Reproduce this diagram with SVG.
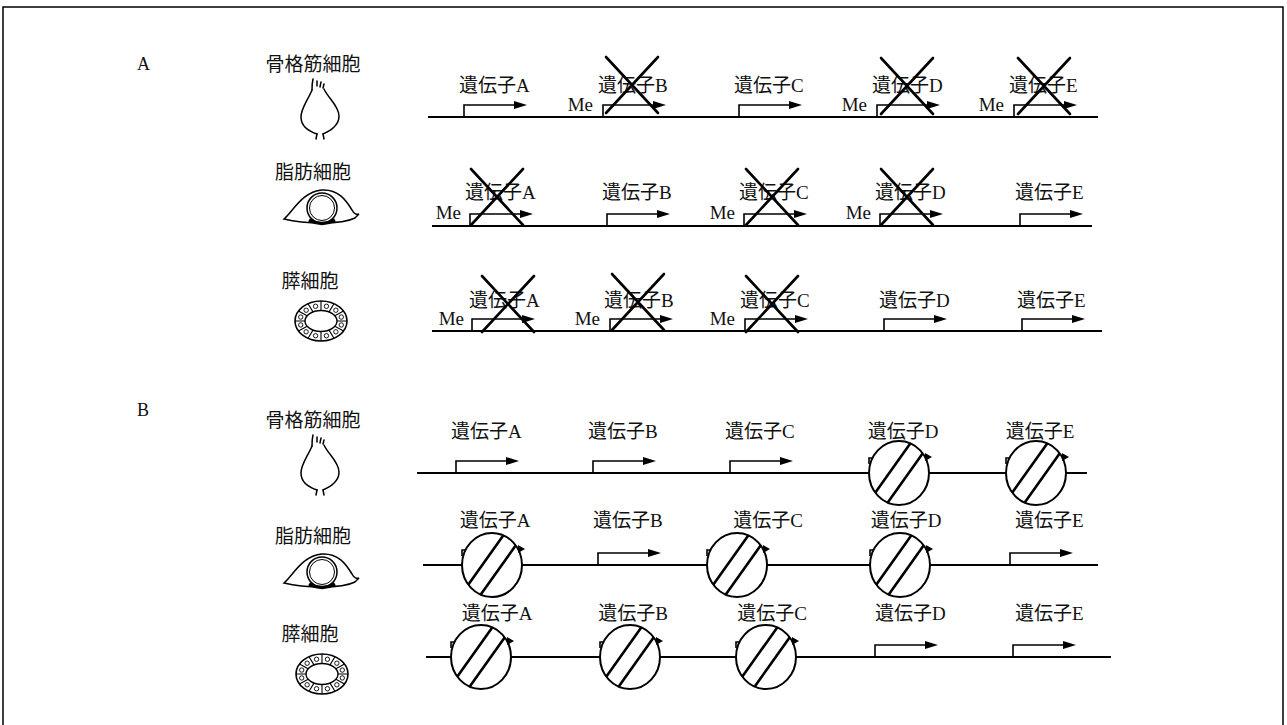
<svg xmlns="http://www.w3.org/2000/svg" width="1287" height="725" viewBox="0 0 1287 725">
  <style>
    .dna { stroke:#000; stroke-width:2; fill:none; }
    .pr { stroke:#000; stroke-width:1.6; fill:none; }
    .cellline { stroke:#000; stroke-width:1.5; fill:none; stroke-linecap:round; }
    .lbl { font-family:"Liberation Serif","Noto Sans CJK JP",serif; font-size:19px; fill:#111; }
    .cap { font-family:"Liberation Serif","Noto Sans CJK JP",serif; font-size:18px; fill:#111; }
    .xx { stroke:#000; stroke-width:2.6; stroke-linecap:round; fill:none; }
  </style>
  <defs>
    <!-- active promoter: bent arrow standing on the strand -->
    <g id="prom">
      <path class="pr" d="M0 0V-12H52"/>
      <path d="M50 -16L63 -12L50 -8Z" fill="#000"/>
    </g>
    <!-- cross over a methylated gene -->
    <path id="cross" class="xx" d="M-26 -28L26 28M26 -28L-26 28"/>
    <!-- gene packed into closed chromatin -->
    <clipPath id="ballClip"><ellipse cx="0" cy="0" rx="30" ry="32"/></clipPath>
    <g id="ball">
      <ellipse rx="30" ry="32" fill="#fff" stroke="#000" stroke-width="2"/>
      <g clip-path="url(#ballClip)">
        <path d="M-32.5 31.9L19.5 -41.1M-19.5 41.1L32.5 -31.9" stroke="#000" stroke-width="2.6"/>
      </g>
      <path class="pr" d="M-30 -9V-15H-27"/>
      <path d="M26 -20L33 -16L26 -12Z" fill="#000"/>
    </g>
    <!-- cell sketches -->
    <g id="muscle">
      <path class="cellline" d="M-8 8C-12 18 -19 26 -19 35C-19 45 -9 50 -3 52M4 7C8 16 19 24 19 34C19 44 10 49 3 52"/>
      <path class="cellline" d="M-8 8C-8 4 -8 1 -7 -3M-3 4L-3 -1M0 5L1 0M3 6L4 2M-3 52L-4 57M3 52L4 57"/>
    </g>
    <g id="fat">
      <path class="cellline" d="M-38 11C-28 2 -20 -16 0 -18C16 -19 24 -8 30 2C32 6 35 7 37 6L33 10C25 14 10 15 0 15C-15 15 -30 13 -38 11Z"/>
      <circle r="15" fill="#fff" stroke="#000" stroke-width="1.5"/>
      <circle r="12.5" fill="none" stroke="#000" stroke-width="1"/>
      <path d="M-13 12Q0 19 13 12" stroke="#000" stroke-width="3.5" fill="none"/>
    </g>
    <g id="pancreas">
      <ellipse rx="26" ry="20" fill="#fff" stroke="#000" stroke-width="1.6"/>
      <ellipse rx="16" ry="10.5" fill="#fff" stroke="#000" stroke-width="1.4"/>
      <path stroke="#000" stroke-width="1.1" d="M16 0L26 0M13.86 5.25L22.52 10M8 9.09L13 17.32M0 10.5L0 20M-8 9.09L-13 17.32M-13.86 5.25L-22.52 10M-16 0L-26 0M-13.86 -5.25L-22.52 -10M-8 -9.09L-13 -17.32M0 -10.5L0 -20M8 -9.09L13 -17.32M13.86 -5.25L22.52 -10"/>
      <g fill="none" stroke="#000" stroke-width="0.9">
        <circle cx="20.28" cy="3.95" r="2.2"/><circle cx="14.85" cy="10.78" r="2.2"/>
        <circle cx="5.44" cy="14.73" r="2.2"/><circle cx="-5.44" cy="14.73" r="2.2"/>
        <circle cx="-14.85" cy="10.78" r="2.2"/><circle cx="-20.28" cy="3.95" r="2.2"/>
        <circle cx="-20.28" cy="-3.95" r="2.2"/><circle cx="-14.85" cy="-10.78" r="2.2"/>
        <circle cx="-5.44" cy="-14.73" r="2.2"/><circle cx="5.44" cy="-14.73" r="2.2"/>
        <circle cx="14.85" cy="-10.78" r="2.2"/><circle cx="20.28" cy="-3.95" r="2.2"/>
      </g>
    </g>
  </defs>

  <rect width="1287" height="725" fill="#fff"/>
  <!-- outer frame -->
  <path d="M3 725V7H1283V725" fill="none" stroke="#000" stroke-width="1.5"/>

  <text class="cap" x="137" y="70">A</text>
  <text class="cap" x="137" y="416">B</text>

  <!-- cell labels and icons -->
  <g id="cellA1"><text class="lbl" x="313" y="71" text-anchor="middle">骨格筋細胞</text><use href="#muscle" x="320" y="82"/></g>
  <g id="cellA2"><text class="lbl" x="313" y="179" text-anchor="middle">脂肪細胞</text><use href="#fat" x="322" y="208"/></g>
  <g id="cellA3"><text class="lbl" x="310" y="288" text-anchor="middle">膵細胞</text><use href="#pancreas" x="321" y="321"/></g>
  <g id="cellB1"><text class="lbl" x="313" y="427" text-anchor="middle">骨格筋細胞</text><use href="#muscle" x="320" y="438"/></g>
  <g id="cellB2"><text class="lbl" x="313" y="543" text-anchor="middle">脂肪細胞</text><use href="#fat" x="322" y="572"/></g>
  <g id="cellB3"><text class="lbl" x="310" y="641" text-anchor="middle">膵細胞</text><use href="#pancreas" x="322" y="674"/></g>

  <!-- DNA strands -->
  <g id="strands">
    <path class="dna" d="M428 117H1098"/>
    <path class="dna" d="M432 226H1092"/>
    <path class="dna" d="M432 331H1102"/>
    <path class="dna" d="M417 473H1087"/>
    <path class="dna" d="M423 565H1098"/>
    <path class="dna" d="M426 657H1111"/>
  </g>

  <!-- A: skeletal muscle -->
  <g id="a1-geneA"><text class="lbl" x="459" y="92">遺伝子A</text><use href="#prom" x="464" y="117"/></g>
  <g id="a1-geneB"><text class="lbl" x="598" y="92">遺伝子B</text><text class="lbl" x="593" y="111" text-anchor="end">Me</text><use href="#prom" x="603" y="117"/><use href="#cross" x="632" y="85"/></g>
  <g id="a1-geneC"><text class="lbl" x="734" y="92">遺伝子C</text><use href="#prom" x="739" y="117"/></g>
  <g id="a1-geneD"><text class="lbl" x="872" y="92">遺伝子D</text><text class="lbl" x="867" y="111" text-anchor="end">Me</text><use href="#prom" x="877" y="117"/><use href="#cross" x="907" y="86"/></g>
  <g id="a1-geneE"><text class="lbl" x="1009" y="92">遺伝子E</text><text class="lbl" x="1004" y="111" text-anchor="end">Me</text><use href="#prom" x="1014" y="117"/><use href="#cross" x="1044" y="86"/></g>

  <!-- A: adipocyte -->
  <g id="a2-geneA"><text class="lbl" x="465" y="199">遺伝子A</text><text class="lbl" x="461" y="219" text-anchor="end">Me</text><use href="#prom" x="470" y="226"/><use href="#cross" x="497" y="197"/></g>
  <g id="a2-geneB"><text class="lbl" x="602" y="199">遺伝子B</text><use href="#prom" x="607" y="226"/></g>
  <g id="a2-geneC"><text class="lbl" x="739" y="199">遺伝子C</text><text class="lbl" x="735" y="219" text-anchor="end">Me</text><use href="#prom" x="744" y="226"/><use href="#cross" x="772" y="197"/></g>
  <g id="a2-geneD"><text class="lbl" x="875" y="199">遺伝子D</text><text class="lbl" x="871" y="219" text-anchor="end">Me</text><use href="#prom" x="880" y="226"/><use href="#cross" x="907" y="197"/></g>
  <g id="a2-geneE"><text class="lbl" x="1015" y="199">遺伝子E</text><use href="#prom" x="1020" y="226"/></g>

  <!-- A: pancreatic cell -->
  <g id="a3-geneA"><text class="lbl" x="469" y="307">遺伝子A</text><text class="lbl" x="464" y="325" text-anchor="end">Me</text><use href="#prom" x="472" y="331"/><use href="#cross" x="508" y="304"/></g>
  <g id="a3-geneB"><text class="lbl" x="604" y="307">遺伝子B</text><text class="lbl" x="600" y="325" text-anchor="end">Me</text><use href="#prom" x="610" y="331"/><use href="#cross" x="638" y="302"/></g>
  <g id="a3-geneC"><text class="lbl" x="740" y="307">遺伝子C</text><text class="lbl" x="735" y="325" text-anchor="end">Me</text><use href="#prom" x="745" y="331"/><use href="#cross" x="772" y="304"/></g>
  <g id="a3-geneD"><text class="lbl" x="879" y="307">遺伝子D</text><use href="#prom" x="884" y="331"/></g>
  <g id="a3-geneE"><text class="lbl" x="1017" y="307">遺伝子E</text><use href="#prom" x="1022" y="331"/></g>

  <!-- B: skeletal muscle -->
  <g id="b1-geneA"><text class="lbl" x="451" y="438">遺伝子A</text><use href="#prom" x="456" y="473"/></g>
  <g id="b1-geneB"><text class="lbl" x="588" y="438">遺伝子B</text><use href="#prom" x="593" y="473"/></g>
  <g id="b1-geneC"><text class="lbl" x="725" y="438">遺伝子C</text><use href="#prom" x="730" y="473"/></g>
  <g id="b1-geneD"><text class="lbl" x="903" y="438" text-anchor="middle">遺伝子D</text><use href="#ball" x="899" y="473"/></g>
  <g id="b1-geneE"><text class="lbl" x="1040" y="438" text-anchor="middle">遺伝子E</text><use href="#ball" x="1036" y="473"/></g>

  <!-- B: adipocyte -->
  <g id="b2-geneA"><text class="lbl" x="495" y="527" text-anchor="middle">遺伝子A</text><use href="#ball" x="492" y="565"/></g>
  <g id="b2-geneB"><text class="lbl" x="593" y="527">遺伝子B</text><use href="#prom" x="598" y="565"/></g>
  <g id="b2-geneC"><text class="lbl" x="768" y="527" text-anchor="middle">遺伝子C</text><use href="#ball" x="737" y="565"/></g>
  <g id="b2-geneD"><text class="lbl" x="906" y="527" text-anchor="middle">遺伝子D</text><use href="#ball" x="900" y="565"/></g>
  <g id="b2-geneE"><text class="lbl" x="1015" y="527">遺伝子E</text><use href="#prom" x="1010" y="565"/></g>

  <!-- B: pancreatic cell -->
  <g id="b3-geneA"><text class="lbl" x="497" y="620" text-anchor="middle">遺伝子A</text><use href="#ball" x="481" y="657"/></g>
  <g id="b3-geneB"><text class="lbl" x="633" y="620" text-anchor="middle">遺伝子B</text><use href="#ball" x="630" y="657"/></g>
  <g id="b3-geneC"><text class="lbl" x="772" y="620" text-anchor="middle">遺伝子C</text><use href="#ball" x="766" y="657"/></g>
  <g id="b3-geneD"><text class="lbl" x="875" y="620">遺伝子D</text><use href="#prom" x="875" y="657"/></g>
  <g id="b3-geneE"><text class="lbl" x="1015" y="620">遺伝子E</text><use href="#prom" x="1013" y="657"/></g>
</svg>
